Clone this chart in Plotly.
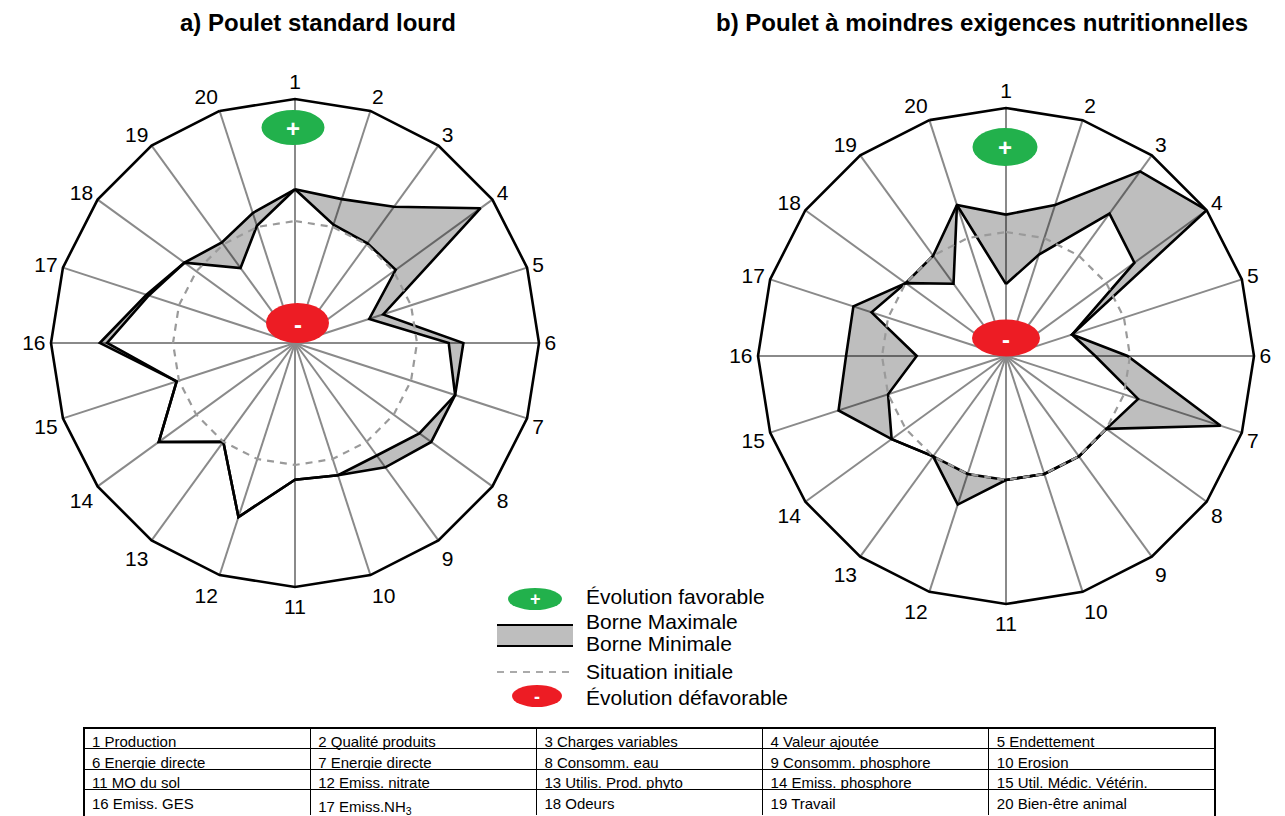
import plotly.graph_objects as go

W, H = 1285, 816
OFF = 8            # browser default body margin
FW, FH = W - OFF, H - OFF

# ---------------- data ----------------
axes = [str(i) for i in range(1, 21)]

# panel a) Poulet standard lourd  (normalised radius, 0 = centre, 1 = outer polygon)
a_max = [0.63, 0.62, 0.69, 0.94, 0.38, 0.69, 0.69, 0.69, 0.63, 0.57,
         0.56, 0.75, 0.50, 0.69, 0.51, 0.80, 0.64, 0.56, 0.51, 0.56]
a_min = [0.63, 0.51, 0.505, 0.51, 0.32, 0.63, 0.69, 0.63, 0.57, 0.57,
         0.56, 0.75, 0.50, 0.69, 0.51, 0.77, 0.63, 0.56, 0.38, 0.505]

# panel b) Poulet à moindres exigences nutritionnelles
b_max = [0.57, 0.64, 0.92, 1.00, 0.28, 0.49, 0.91, 0.50, 0.50, 0.50,
         0.50, 0.63, 0.50, 0.57, 0.71, 0.645, 0.647, 0.50, 0.50, 0.64]
b_min = [0.29, 0.43, 0.71, 0.64, 0.28, 0.36, 0.56, 0.50, 0.50, 0.50,
         0.50, 0.50, 0.50, 0.57, 0.50, 0.36, 0.57, 0.50, 0.36, 0.64]

initial = [0.5] * 20

titles = ["a) Poulet standard lourd",
          "b) Poulet à moindres exigences nutritionnelles"]

table_row1 = ["1 Production", "2 Qualité produits", "3 Charges variables",
              "4 Valeur ajoutée", "5 Endettement"]
table_row2 = ["6 Energie directe", "7 Energie directe", "8 Consomm. eau",
              "9 Consomm. phosphore", "10 Erosion"]
table_row3 = ["11 MO du sol", "12 Emiss. nitrate", "13 Utilis. Prod. phyto",
              "14 Emiss. phosphore", "15 Util. Médic. Vétérin."]
table_row4 = ["16 Emiss. GES", "17 Emiss.NH<sub>3</sub>", "18 Odeurs",
              "19 Travail", "20 Bien-être animal"]

legend_labels = ["Évolution favorable", "Borne Maximale", "Borne Minimale",
                 "Situation initiale", "Évolution défavorable"]

# ---------------- helpers ----------------
def px(x):
    return (x - OFF) / FW

def py(y):
    return 1 - (y - OFF) / FH

FONT = "Liberation Sans, Arial, sans-serif"

panels = [
    dict(sub="polar", cx=295, cy=343, R=244, mx=a_max, mn=a_min, title=titles[0], tx=318,
         green=(293, 127.5, 63, 35), red=(297.5, 323, 63, 40)),
    dict(sub="polar2", cx=1006, cy=356, R=248, mx=b_max, mn=b_min, title=titles[1], tx=982,
         green=(1005, 147, 65, 38), red=(1006, 338, 68, 37)),
]

fig = go.Figure()
shapes = []
annotations = []

for p in panels:
    th = axes + [axes[0]]
    mx = p["mx"] + [p["mx"][0]]
    mn = p["mn"] + [p["mn"][0]]
    ini = initial + [initial[0]]
    # grey band between min and max
    fig.add_trace(go.Scatterpolar(
        theta=th + th[::-1], r=mx + mn[::-1], mode="lines", fill="toself",
        fillcolor="rgba(0,0,0,0.255)", line=dict(color="rgba(0,0,0,0)", width=0),
        subplot=p["sub"], hoverinfo="skip", showlegend=False))
    fig.add_trace(go.Scatterpolar(
        theta=th, r=mx, mode="lines", line=dict(color="black", width=2.6),
        subplot=p["sub"], showlegend=False, name="Borne Maximale"))
    fig.add_trace(go.Scatterpolar(
        theta=th, r=mn, mode="lines", line=dict(color="black", width=2.6),
        subplot=p["sub"], showlegend=False, name="Borne Minimale"))
    fig.add_trace(go.Scatterpolar(
        theta=th, r=ini, mode="lines",
        line=dict(color="#9a9a9a", width=2.2, dash="7px,6px"),
        subplot=p["sub"], showlegend=False, name="Situation initiale"))

    # title
    annotations.append(dict(x=px(p["tx"]), y=py(22), xref="paper", yref="paper",
                            text="<b>%s</b>" % p["title"], showarrow=False,
                            font=dict(family=FONT, size=24, color="black"),
                            xanchor="center", yanchor="middle"))
    # + / - ellipses
    for (cx, cy, w, h), col, sym in [(p["green"], "#22b14c", "+"), (p["red"], "#ed1c24", "-")]:
        shapes.append(dict(type="circle", xref="paper", yref="paper",
                           x0=px(cx - w / 2), x1=px(cx + w / 2),
                           y0=py(cy + h / 2), y1=py(cy - h / 2),
                           fillcolor=col, line=dict(width=0), layer="above"))
        annotations.append(dict(x=px(cx), y=py(cy + 1), xref="paper", yref="paper",
                                text="<b>%s</b>" % sym, showarrow=False,
                                font=dict(family=FONT, size=24, color="white"),
                                xanchor="center", yanchor="middle"))

def polar_layout(p):
    R = p["R"]
    return dict(
        domain=dict(x=[px(p["cx"] - R), px(p["cx"] + R)],
                    y=[py(p["cy"] + R), py(p["cy"] - R)]),
        bgcolor="white",
        gridshape="linear",
        radialaxis=dict(range=[0, 1], visible=False, showgrid=False),
        angularaxis=dict(type="category", categoryarray=axes, direction="clockwise",
                         rotation=90, showline=True, linecolor="black", linewidth=2.6,
                         showgrid=True, gridcolor="#8a8a8a", gridwidth=1.6,
                         ticks="",
                         tickfont=dict(family=FONT, size=21, color="black")),
    )

# ---------------- legend (drawn) ----------------
shapes.append(dict(type="circle", xref="paper", yref="paper", x0=px(508), x1=px(562),
                   y0=py(610), y1=py(588), fillcolor="#22b14c", line=dict(width=0)))
annotations.append(dict(x=px(535), y=py(599), xref="paper", yref="paper", text="<b>+</b>",
                        showarrow=False, xanchor="center", yanchor="middle",
                        font=dict(family=FONT, size=18, color="white")))
shapes.append(dict(type="rect", xref="paper", yref="paper", x0=px(497), x1=px(573),
                   y0=py(646), y1=py(625), fillcolor="#bebebe", line=dict(width=0)))
for yy in (625, 646):
    shapes.append(dict(type="line", xref="paper", yref="paper", x0=px(497), x1=px(573),
                       y0=py(yy), y1=py(yy), line=dict(color="black", width=2)))
shapes.append(dict(type="line", xref="paper", yref="paper", x0=px(497), x1=px(573),
                   y0=py(672), y1=py(672), line=dict(color="#aaaaaa", width=2, dash="7px,6px")))
shapes.append(dict(type="circle", xref="paper", yref="paper", x0=px(512), x1=px(562),
                   y0=py(707), y1=py(685), fillcolor="#ed1c24", line=dict(width=0)))
annotations.append(dict(x=px(537), y=py(697), xref="paper", yref="paper", text="<b>-</b>",
                        showarrow=False, xanchor="center", yanchor="middle",
                        font=dict(family=FONT, size=18, color="white")))
for lbl, yy in zip(legend_labels, [596, 621, 643, 671, 697]):
    annotations.append(dict(x=px(584), y=py(yy), xref="paper", yref="paper", text=lbl,
                            showarrow=False, xanchor="left", yanchor="middle",
                            font=dict(family=FONT, size=21, color="black")))

# ---------------- table ----------------
cell_cols = [list(c) for c in zip(table_row2, table_row3, table_row4)]
fig.add_trace(go.Table(
    domain=dict(x=[px(84), px(1215)], y=[0, py(728)]),
    columnwidth=[1, 1, 1, 1, 1],
    header=dict(values=table_row1, align="left", height=20.5,
                line=dict(color="black", width=1), fill=dict(color="white"),
                font=dict(family=FONT, size=15, color="black")),
    cells=dict(values=cell_cols, align="left", height=20.5,
               line=dict(color="black", width=1), fill=dict(color="white"),
               font=dict(family=FONT, size=15, color="black")),
))
shapes.append(dict(type="rect", xref="paper", yref="paper", x0=px(84), x1=px(1215),
                   y0=py(830), y1=py(728), line=dict(color="black", width=2),
                   fillcolor="rgba(0,0,0,0)"))

fig.update_layout(
    width=FW, height=FH,
    margin=dict(l=0, r=0, t=0, b=0),
    paper_bgcolor="white",
    showlegend=False,
    polar=polar_layout(panels[0]),
    polar2=polar_layout(panels[1]),
    shapes=shapes,
    annotations=annotations,
)

fig.write_html("out.html")
